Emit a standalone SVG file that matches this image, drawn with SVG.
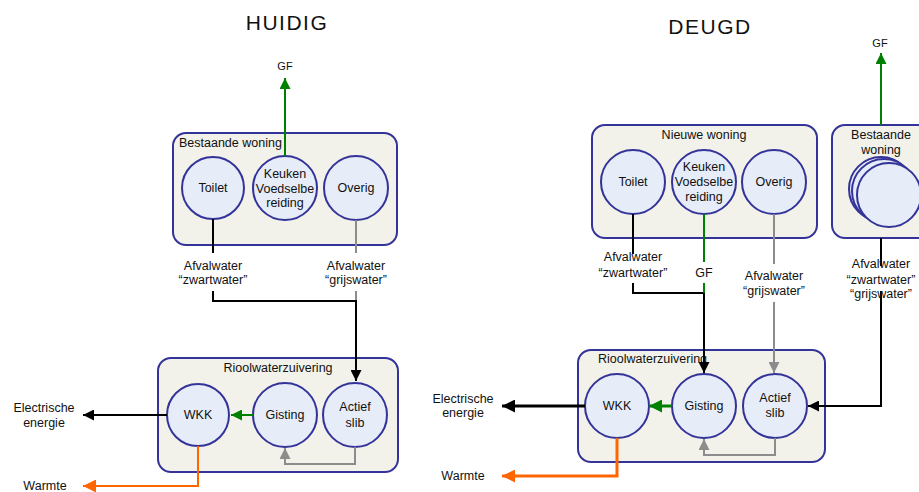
<svg xmlns="http://www.w3.org/2000/svg" width="919" height="492" viewBox="0 0 919 492">
<style>
text{font-family:"Liberation Sans",Arial,sans-serif;font-size:12.5px;fill:#111;text-anchor:middle}
.title{font-size:21px;letter-spacing:1.5px}
.box{fill:#f2f2ea;stroke:#333399;stroke-width:2}
.c{fill:#e6ecf8;stroke:#333399;stroke-width:2}
.ln{fill:none;stroke-width:2}
.k{stroke:#000}
.g{stroke:#008000}
.y{stroke:#8c8c8c}
.o{stroke:#ff6600}
.thick{stroke-width:3}
.l{text-anchor:start}
</style>
<defs>
<marker id="ak" markerUnits="userSpaceOnUse" viewBox="0 0 10 10" refX="10" refY="5" markerWidth="11" markerHeight="11" orient="auto"><path d="M0,0L10,5L0,10z" fill="#000"/></marker>
<marker id="ag" markerUnits="userSpaceOnUse" viewBox="0 0 10 10" refX="10" refY="5" markerWidth="11" markerHeight="11" orient="auto"><path d="M0,0L10,5L0,10z" fill="#008000"/></marker>
<marker id="ay" markerUnits="userSpaceOnUse" viewBox="0 0 10 10" refX="10" refY="5" markerWidth="11" markerHeight="11" orient="auto"><path d="M0,0L10,5L0,10z" fill="#8c8c8c"/></marker>
<marker id="ao" markerUnits="userSpaceOnUse" viewBox="0 0 10 10" refX="10" refY="5" markerWidth="13" markerHeight="13" orient="auto"><path d="M0,0L10,5L0,10z" fill="#ff6600"/></marker>
<marker id="akb" markerUnits="userSpaceOnUse" viewBox="0 0 10 10" refX="10" refY="5" markerWidth="13" markerHeight="13" orient="auto"><path d="M0,0L10,5L0,10z" fill="#000"/></marker>
<marker id="agb" markerUnits="userSpaceOnUse" viewBox="0 0 10 10" refX="10" refY="5" markerWidth="13" markerHeight="13" orient="auto"><path d="M0,0L10,5L0,10z" fill="#008000"/></marker>
</defs>

<text class="title" x="287" y="30">HUIDIG</text>
<text class="title" x="710" y="34">DEUGD</text>

<!-- LEFT: Bestaande woning -->
<g id="bestaande-woning-huidig">
<rect class="box" x="173" y="133" width="224" height="112" rx="13"/>
<text class="l" x="179" y="147">Bestaande woning</text>
</g>
<g id="toilet-h"><circle class="c" cx="213" cy="188" r="31"/><text x="213" y="192">Toilet</text></g>
<g id="keuken-h"><circle class="c" cx="285" cy="188" r="32"/><text x="285" y="178">Keuken</text><text x="285" y="193">Voedselbe</text><text x="285" y="207">reiding</text></g>
<g id="overig-h"><circle class="c" cx="356" cy="188" r="32"/><text x="356" y="192">Overig</text></g>

<g id="rwzi-huidig">
<rect class="box" x="158" y="358" width="240" height="114" rx="13"/>
<text x="278" y="372">Rioolwaterzuivering</text>
</g>
<g id="wkk-h"><circle class="c" cx="198" cy="415" r="31"/><text x="198" y="419">WKK</text></g>
<g id="gisting-h"><circle class="c" cx="285" cy="415" r="32"/><text x="285" y="419">Gisting</text></g>
<g id="actief-h"><circle class="c" cx="355" cy="415" r="32"/><text x="355" y="411">Actief</text><text x="355" y="427">slib</text></g>

<!-- RIGHT -->
<g id="nieuwe-woning">
<rect class="box" x="592" y="125" width="225" height="113" rx="13"/>
<text x="704" y="139">Nieuwe woning</text>
</g>
<g id="toilet-d"><circle class="c" cx="633" cy="182" r="32"/><text x="633" y="186">Toilet</text></g>
<g id="keuken-d"><circle class="c" cx="704" cy="182" r="32"/><text x="704" y="171">Keuken</text><text x="704" y="186">Voedselbe</text><text x="704" y="201">reiding</text></g>
<g id="overig-d"><circle class="c" cx="774" cy="182" r="32"/><text x="774" y="186">Overig</text></g>

<g id="bestaande-woning-deugd">
<rect class="box" x="832" y="125" width="110" height="113" rx="13"/>
<text x="881" y="139">Bestaande</text>
<text x="881" y="154">woning</text>
<circle class="c" cx="881" cy="189" r="32"/>
<circle class="c" cx="884" cy="191" r="32"/>
<circle class="c" cx="889" cy="195" r="32"/>
</g>

<g id="rwzi-deugd">
<rect class="box" x="578" y="350" width="247" height="112" rx="13"/>
<text class="l" x="598" y="363">Rioolwaterzuivering</text>
</g>
<g id="wkk-d"><circle class="c" cx="617" cy="406" r="32"/><text x="617" y="410">WKK</text></g>
<g id="gisting-d"><circle class="c" cx="704" cy="406" r="32"/><text x="704" y="410">Gisting</text></g>
<g id="actief-d"><circle class="c" cx="775" cy="406" r="32"/><text x="775" y="402">Actief</text><text x="775" y="417">slib</text></g>

<g id="connectors">
<!-- left -->
<path class="ln g" d="M285,156V78" marker-end="url(#ag)"/>
<path class="ln k" d="M213,219V253"/>
<path class="ln k" d="M213,291V301H356V381" marker-end="url(#ak)"/>
<path class="ln y" d="M356,220V253"/>
<path class="ln y" d="M356,291V300"/>
<path class="ln g" d="M253,415H231" marker-end="url(#ag)"/>
<path class="ln y" d="M355,447V464H285V448" marker-end="url(#ay)"/>
<path class="ln k" d="M167,415H83" marker-end="url(#ak)"/>
<path class="ln o" d="M198,446V486H83" marker-end="url(#ao)"/>
<!-- right -->
<path class="ln g" d="M881,125V53" marker-end="url(#ag)"/>
<path class="ln k" d="M633,214V254"/>
<path class="ln k" d="M633,283V293H704V373" marker-end="url(#ak)"/>
<path class="ln g" d="M704,214V262"/>
<path class="ln g" d="M704,283V293"/>
<path class="ln y" d="M774,214V264"/>
<path class="ln y" d="M774,302V373" marker-end="url(#ay)"/>
<path class="ln k" d="M881,238V266"/>
<path class="ln k" d="M881,291V406H808" marker-end="url(#ak)"/>
<path class="ln k thick" d="M585,406H502" marker-end="url(#akb)"/>
<path class="ln g thick" d="M672,406H649" marker-end="url(#agb)"/>
<path class="ln y" d="M775,438V455H704V439" marker-end="url(#ay)"/>
<path class="ln o thick" d="M617,438V476H502" marker-end="url(#ao)"/>
</g>

<!-- labels -->
<text x="285" y="70" style="font-size:11px">GF</text>
<text x="213" y="270">Afvalwater</text>
<text x="213" y="284">“zwartwater”</text>
<text x="356" y="270">Afvalwater</text>
<text x="356" y="284">“grijswater”</text>
<text x="44" y="412">Electrische</text>
<text x="44" y="427">energie</text>
<text x="45" y="490">Warmte</text>

<text x="880" y="47" style="font-size:11px">GF</text>
<text x="633" y="261">Afvalwater</text>
<text x="633" y="277">“zwartwater”</text>
<text x="704" y="277">GF</text>
<text x="774" y="280">Afvalwater</text>
<text x="774" y="295">“grijswater”</text>
<text x="881" y="268">Afvalwater</text>
<text x="881" y="284">“zwartwater”</text>
<text x="881" y="298">“grijswater”</text>
<text x="463" y="403">Electrische</text>
<text x="463" y="417">energie</text>
<text x="463" y="480">Warmte</text>
</svg>
